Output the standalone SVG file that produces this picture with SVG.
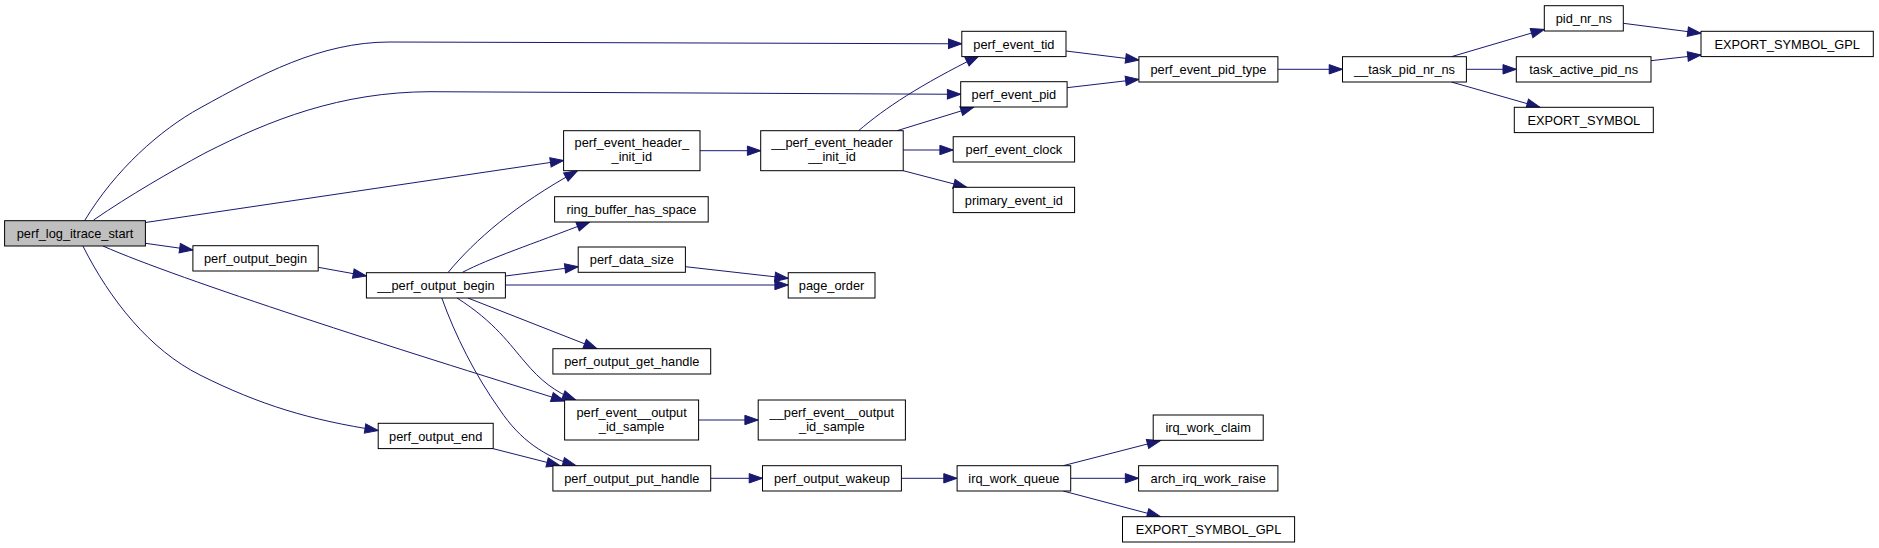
<svg xmlns="http://www.w3.org/2000/svg" width="1879" height="548" viewBox="0 0 1879 548">
<style>
.n rect{fill:#fff;stroke:#000;stroke-width:1}
.n.root rect{fill:#bfbfbf}
.n text{font-family:"Liberation Sans",Arial,sans-serif;font-size:12.8px;text-anchor:middle;fill:#000}
.e path{fill:none;stroke:#191970;stroke-width:1;marker-end:url(#arr)}
</style>
<defs>
<marker id="arr" markerUnits="userSpaceOnUse" markerWidth="14" markerHeight="10" refX="13.3" refY="4.7" orient="auto" overflow="visible">
<path d="M0,0 L13.3,4.7 L0,9.4 z" fill="#191970" stroke="#191970" stroke-width="1"/>
</marker>
</defs>
<rect width="1879" height="548" fill="#fff"/>
<g id="edges" class="e">
<path d="M84.6,220.7 C115,170 160,130 200,108 C260,75 320,42 390,42 L961.8,43.8"/>
<path d="M93.6,220 C130,195 170,172 205,153 C270,120 340,92 430,91.7 L960.7,94.3"/>
<path d="M145.4,222.5 L563.6,160.5"/>
<path d="M145.4,243.3 L192.9,250"/>
<path d="M102.9,246 C180,280 400,350 564.6,401"/>
<path d="M82.9,246 C110,300 150,350 200,375 C260,405 310,420 378.2,430.5"/>
<path d="M318.2,267.3 L366.4,276"/>
<path d="M700,150.7 L760.7,150.7"/>
<path d="M858.6,130.7 C885,108 920,85 978.9,55.8"/>
<path d="M897,130.7 L974,107"/>
<path d="M903.2,150 L953.2,150"/>
<path d="M903.2,170.7 L966.8,187.3"/>
<path d="M1066,51 L1138.9,60"/>
<path d="M1067,87.7 L1138.9,79.3"/>
<path d="M1277.9,69.3 L1342.5,69.3"/>
<path d="M1451.4,56.7 L1544.3,29.3"/>
<path d="M1466.4,69.3 L1516.3,69.3"/>
<path d="M1451.4,82 L1540,107.3"/>
<path d="M1623.3,23.3 L1701,33.3"/>
<path d="M1651,60.7 L1701,55"/>
<path d="M448.2,272.3 C475,240 515,205 577.5,170.7"/>
<path d="M462.5,272.3 C490,258 530,245 590,221.7"/>
<path d="M505.4,276 L578.2,266.7"/>
<path d="M505.4,285 L788.2,285"/>
<path d="M685.4,266.7 L788.2,278.3"/>
<path d="M467.9,298 L597,348.7"/>
<path d="M457,298 C495,322 510,345 525,362 C540,380 555,392 575.7,400"/>
<path d="M441.8,298 C455,335 475,375 500,410 C520,440 545,457 576,465.7"/>
<path d="M493.2,448.7 L560,465.7"/>
<path d="M698.6,420 L758.2,420"/>
<path d="M710.7,478.3 L762.5,478.3"/>
<path d="M901.4,478.3 L957.1,478.3"/>
<path d="M1063.2,465.7 L1160.4,440.7"/>
<path d="M1070.7,478.3 L1138.6,478.3"/>
<path d="M1063.2,491 L1160.4,516.7"/>
</g>
<g id="perf_log_itrace_start" class="n root"><rect x="4.6" y="220.7" width="140.8" height="25.3"/><text x="75" y="237.8">perf_log_itrace_start</text></g>
<g id="perf_output_begin" class="n"><rect x="192.9" y="245.7" width="125.3" height="25.3"/><text x="255.5" y="262.8">perf_output_begin</text></g>
<g id="perf_event_tid" class="n"><rect x="961.8" y="31.3" width="104.2" height="25.3"/><text x="1013.9" y="48.5">perf_event_tid</text></g>
<g id="perf_event_pid" class="n"><rect x="960.7" y="81.7" width="106.4" height="25.3"/><text x="1013.9" y="98.8">perf_event_pid</text></g>
<g id="perf_event_header__init_id" class="n"><rect x="563.6" y="130.7" width="136.4" height="40"/><text x="631.8" y="147">perf_event_header_</text><text x="631.8" y="161">_init_id</text></g>
<g id="__perf_event_header__init_id" class="n"><rect x="760.7" y="130.7" width="142.5" height="40"/><text x="832" y="147">__perf_event_header</text><text x="832" y="161">__init_id</text></g>
<g id="perf_event_clock" class="n"><rect x="953.2" y="136.7" width="121.4" height="25.3"/><text x="1013.9" y="153.8">perf_event_clock</text></g>
<g id="primary_event_id" class="n"><rect x="953.2" y="187.3" width="121.4" height="25.3"/><text x="1013.9" y="204.5">primary_event_id</text></g>
<g id="ring_buffer_has_space" class="n"><rect x="554.6" y="196.7" width="153.6" height="25.3"/><text x="631.4" y="213.8">ring_buffer_has_space</text></g>
<g id="perf_data_size" class="n"><rect x="578.2" y="247" width="107.2" height="25.3"/><text x="631.8" y="264.2">perf_data_size</text></g>
<g id="page_order" class="n"><rect x="788.2" y="272.7" width="86.8" height="25.3"/><text x="831.6" y="289.8">page_order</text></g>
<g id="perf_event_pid_type" class="n"><rect x="1138.9" y="56.7" width="139" height="25.3"/><text x="1208.4" y="73.8">perf_event_pid_type</text></g>
<g id="__task_pid_nr_ns" class="n"><rect x="1342.5" y="56.7" width="123.9" height="25.3"/><text x="1404.5" y="73.8">__task_pid_nr_ns</text></g>
<g id="pid_nr_ns" class="n"><rect x="1544.3" y="5.7" width="79" height="25.3"/><text x="1583.8" y="22.8">pid_nr_ns</text></g>
<g id="task_active_pid_ns" class="n"><rect x="1516.3" y="56.7" width="134.7" height="25.3"/><text x="1583.7" y="73.8">task_active_pid_ns</text></g>
<g id="EXPORT_SYMBOL" class="n"><rect x="1514.3" y="107.3" width="139" height="25.3"/><text x="1583.8" y="124.5">EXPORT_SYMBOL</text></g>
<g id="EXPORT_SYMBOL_GPL_1" class="n"><rect x="1701" y="31.3" width="172.3" height="25.3"/><text x="1787.2" y="48.5">EXPORT_SYMBOL_GPL</text></g>
<g id="__perf_output_begin" class="n"><rect x="366.4" y="272.7" width="139" height="25.3"/><text x="435.9" y="289.8">__perf_output_begin</text></g>
<g id="perf_output_end" class="n"><rect x="378.2" y="423.3" width="115" height="25.3"/><text x="435.7" y="440.5">perf_output_end</text></g>
<g id="perf_output_get_handle" class="n"><rect x="552.9" y="348.7" width="157.8" height="25.3"/><text x="631.8" y="365.8">perf_output_get_handle</text></g>
<g id="perf_event__output_id_sample" class="n"><rect x="564.6" y="400" width="134" height="40"/><text x="631.6" y="416.5">perf_event__output</text><text x="631.6" y="430.5">_id_sample</text></g>
<g id="__perf_event__output_id_sample" class="n"><rect x="758.2" y="400" width="147.2" height="40"/><text x="831.8" y="416.5">__perf_event__output</text><text x="831.8" y="430.5">_id_sample</text></g>
<g id="perf_output_put_handle" class="n"><rect x="552.9" y="465.7" width="157.8" height="25.3"/><text x="631.8" y="482.8">perf_output_put_handle</text></g>
<g id="perf_output_wakeup" class="n"><rect x="762.5" y="465.7" width="138.9" height="25.3"/><text x="832" y="482.8">perf_output_wakeup</text></g>
<g id="irq_work_queue" class="n"><rect x="957.1" y="465.7" width="113.6" height="25.3"/><text x="1013.9" y="482.8">irq_work_queue</text></g>
<g id="irq_work_claim" class="n"><rect x="1153.2" y="415" width="110" height="25.3"/><text x="1208.2" y="432.3">irq_work_claim</text></g>
<g id="arch_irq_work_raise" class="n"><rect x="1138.6" y="465.7" width="139.3" height="25.3"/><text x="1208.2" y="482.8">arch_irq_work_raise</text></g>
<g id="EXPORT_SYMBOL_GPL_2" class="n"><rect x="1122.5" y="516.7" width="172.1" height="25.3"/><text x="1208.5" y="533.8">EXPORT_SYMBOL_GPL</text></g>
</svg>
